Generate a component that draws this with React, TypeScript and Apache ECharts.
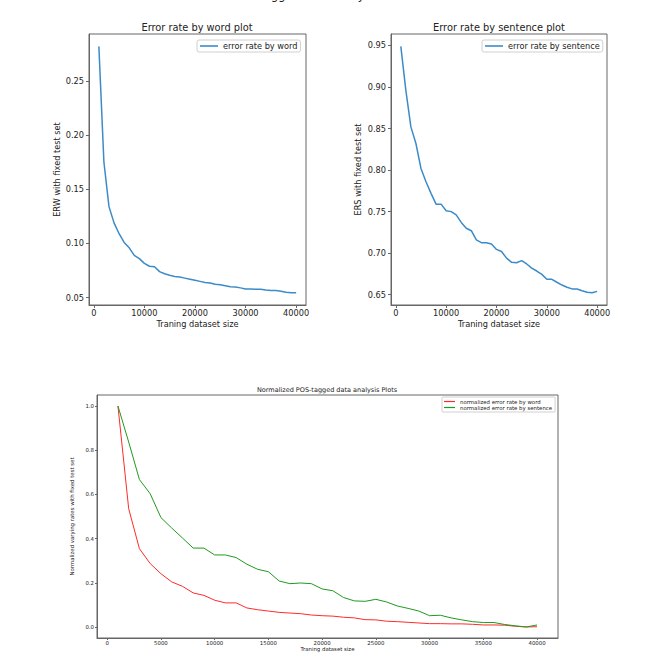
import React, { useEffect, useRef } from "react";
import * as echarts from "echarts";

const sizes = [
  1000, 2000, 3000, 4000, 5000, 6000, 7000, 8000, 9000, 10000,
  11000, 12000, 13000, 14000, 15000, 16000, 17000, 18000, 19000, 20000,
  21000, 22000, 23000, 24000, 25000, 26000, 27000, 28000, 29000, 30000,
  31000, 32000, 33000, 34000, 35000, 36000, 37000, 38000, 39000, 40000,
];

const errWord = [
  0.282, 0.175, 0.134, 0.119, 0.109, 0.101, 0.096, 0.089, 0.086, 0.0816,
  0.079, 0.0785, 0.074, 0.072, 0.0707, 0.0695, 0.069, 0.068, 0.067, 0.066,
  0.065, 0.064, 0.0636, 0.0624, 0.0618, 0.061, 0.06, 0.0599, 0.059, 0.058,
  0.058, 0.0578, 0.0578, 0.057, 0.0565, 0.0565, 0.0559, 0.055, 0.0546, 0.0546,
];

const errSentence = [
  0.949, 0.896, 0.852, 0.832, 0.802, 0.786, 0.772, 0.759, 0.759, 0.751,
  0.75, 0.746, 0.737, 0.73, 0.727, 0.716, 0.7126, 0.7126, 0.711, 0.7045,
  0.702, 0.694, 0.689, 0.6885, 0.691, 0.687, 0.682, 0.6785, 0.6745, 0.6685,
  0.6685, 0.665, 0.6616, 0.659, 0.657, 0.6568, 0.6548, 0.653, 0.6524, 0.654,
];

const normWord = [
  1.0, 0.535, 0.354, 0.287, 0.241, 0.204, 0.184, 0.154, 0.143, 0.121,
  0.109, 0.109, 0.086, 0.078, 0.072, 0.066, 0.063, 0.06, 0.054, 0.051,
  0.049, 0.044, 0.041, 0.033, 0.032, 0.026, 0.024, 0.021, 0.018, 0.015,
  0.015, 0.014, 0.014, 0.012, 0.009, 0.009, 0.008, 0.003, 0.0, 0.001,
];

const normSentence = [
  1.0, 0.837, 0.667, 0.603, 0.495, 0.448, 0.403, 0.357, 0.357, 0.326,
  0.326, 0.314, 0.284, 0.261, 0.25, 0.208, 0.196, 0.199, 0.196, 0.172,
  0.164, 0.133, 0.118, 0.116, 0.125, 0.113, 0.095, 0.084, 0.072, 0.051,
  0.053, 0.041, 0.032, 0.024, 0.02, 0.02, 0.011, 0.005, 0.0, 0.009,
];

const xTicksTop = [0, 10000, 20000, 30000, 40000];
const xTicksBottom = [0, 5000, 10000, 15000, 20000, 25000, 30000, 35000, 40000];
const yTicksWord = [0.05, 0.1, 0.15, 0.2, 0.25];
const yTicksSentence = [0.65, 0.7, 0.75, 0.8, 0.85, 0.9, 0.95];
const yTicksNorm = [0.0, 0.2, 0.4, 0.6, 0.8, 1.0];

const FONT = "DejaVu Sans";
const TXT = "#222";
const FRAME = "#666";

const pairs = (ys: number[]) => sizes.map((x, i) => [x, ys[i]]);

function xAxisCfg(grid: number, ticks: number[], fs: number, margin: number, gap: number, tickLen: number) {
  return {
    type: "value",
    gridIndex: grid,
    position: "bottom",
    min: -950,
    max: 41950,
    name: "Traning dataset size",
    nameLocation: "middle",
    nameGap: gap,
    nameTextStyle: { fontFamily: FONT, fontSize: fs, color: TXT },
    splitLine: { show: false },
    axisLine: { show: true, onZero: false, lineStyle: { color: FRAME, width: 1 } },
    axisTick: { show: true, inside: false, customValues: ticks, length: tickLen, lineStyle: { color: FRAME } },
    axisLabel: { customValues: ticks, fontFamily: FONT, fontSize: fs, color: TXT, margin, formatter: (v: number) => String(v) },
  };
}

function yAxisCfg(grid: number, min: number, max: number, ticks: number[], digits: number, name: string, fs: number, margin: number, gap: number, tickLen: number) {
  return {
    type: "value",
    gridIndex: grid,
    position: "left",
    min,
    max,
    name,
    nameLocation: "middle",
    nameGap: gap,
    nameTextStyle: { fontFamily: FONT, fontSize: fs, color: TXT },
    splitLine: { show: false },
    axisLine: { show: true, onZero: false, lineStyle: { color: FRAME, width: 1 } },
    axisTick: { show: true, inside: false, customValues: ticks, length: tickLen, lineStyle: { color: FRAME } },
    axisLabel: { customValues: ticks, fontFamily: FONT, fontSize: fs, color: TXT, margin, formatter: (v: number) => v.toFixed(digits) },
  };
}

export default function App() {
  const ref = useRef<HTMLDivElement>(null);
  useEffect(() => {
    if (!ref.current) return;
    const chart = echarts.init(ref.current, undefined, { renderer: "svg" });
    const gridBase = { show: true, borderColor: FRAME, borderWidth: 1, backgroundColor: "transparent", containLabel: false };
    const option: any = {
      animation: false,
      backgroundColor: "#fff",
      grid: [
        { ...gridBase, left: 89, top: 34, width: 217, height: 271 },
        { ...gridBase, left: 391, top: 34, width: 216, height: 271 },
        { ...gridBase, left: 97, top: 395, width: 461, height: 243 },
      ],
      xAxis: [
        xAxisCfg(0, xTicksTop, 8.2, 4, 15, 3),
        xAxisCfg(1, xTicksTop, 8.2, 4, 15, 3),
        xAxisCfg(2, xTicksBottom, 5.4, 2, 8, 2),
      ],
      yAxis: [
        yAxisCfg(0, 0.0432, 0.2934, yTicksWord, 2, "ERW with fixed test set", 8.2, 5, 28, 3),
        yAxisCfg(1, 0.6376, 0.9638, yTicksSentence, 2, "ERS with fixed test set", 8.2, 5, 29, 3),
        yAxisCfg(2, -0.05, 1.05, yTicksNorm, 1, "Normalized varying rates with fixed test set", 5.4, 3, 16, 2),
      ],
      legend: [
        {
          data: ["error rate by word"],
          left: 197, top: 40, padding: [2, 3, 2, 3],
          icon: "rect", itemWidth: 18, itemHeight: 1.6,
          borderColor: "#d0d0d0", borderWidth: 1, borderRadius: 2,
          textStyle: { fontFamily: FONT, fontSize: 8.2, color: TXT },
        },
        {
          data: ["error rate by sentence"],
          left: 482, top: 40, padding: [2, 3, 2, 3],
          icon: "rect", itemWidth: 18, itemHeight: 1.6,
          borderColor: "#d0d0d0", borderWidth: 1, borderRadius: 2,
          textStyle: { fontFamily: FONT, fontSize: 8.2, color: TXT },
        },
        {
          data: ["normalized error rate by word", "normalized error rate by sentence"],
          left: 442, top: 397, orient: "vertical", padding: [2, 3, 2, 2], itemGap: 1,
          icon: "rect", itemWidth: 11, itemHeight: 1.2,
          borderColor: "#d0d0d0", borderWidth: 1, borderRadius: 1,
          textStyle: { fontFamily: FONT, fontSize: 5.4, color: TXT },
        },
      ],
      graphic: [
        { type: "text", left: 232, top: -11, style: { text: "POS-tagged data analysis Plots", fontFamily: FONT, fontSize: 11.5, fill: TXT } },
        { type: "text", x: 197, y: 27, style: { text: "Error rate by word plot", fontFamily: FONT, fontSize: 9.8, fill: TXT, textAlign: "center", textVerticalAlign: "middle" } },
        { type: "text", x: 499, y: 27, style: { text: "Error rate by sentence plot", fontFamily: FONT, fontSize: 9.8, fill: TXT, textAlign: "center", textVerticalAlign: "middle" } },
        { type: "text", x: 327, y: 390, style: { text: "Normalized POS-tagged data analysis Plots", fontFamily: FONT, fontSize: 6.5, fill: TXT, textAlign: "center", textVerticalAlign: "middle" } },
      ],
      series: [
        { type: "line", name: "error rate by word", xAxisIndex: 0, yAxisIndex: 0, data: pairs(errWord), showSymbol: false, symbol: "none", color: "#3b8bc9", lineStyle: { width: 1.5, color: "#3b8bc9" } },
        { type: "line", name: "error rate by sentence", xAxisIndex: 1, yAxisIndex: 1, data: pairs(errSentence), showSymbol: false, symbol: "none", color: "#3b8bc9", lineStyle: { width: 1.5, color: "#3b8bc9" } },
        { type: "line", name: "normalized error rate by word", xAxisIndex: 2, yAxisIndex: 2, data: pairs(normWord), showSymbol: false, symbol: "none", color: "#ff2a2a", lineStyle: { width: 1, color: "#ff2a2a" } },
        { type: "line", name: "normalized error rate by sentence", xAxisIndex: 2, yAxisIndex: 2, data: pairs(normSentence), showSymbol: false, symbol: "none", color: "#1f9a1f", lineStyle: { width: 1, color: "#1f9a1f" } },
      ],
    };
    chart.setOption(option);
    return () => chart.dispose();
  }, []);
  return <div ref={ref} style={{ position: "absolute", left: 0, top: 0, width: 664, height: 664 }} />;
}
